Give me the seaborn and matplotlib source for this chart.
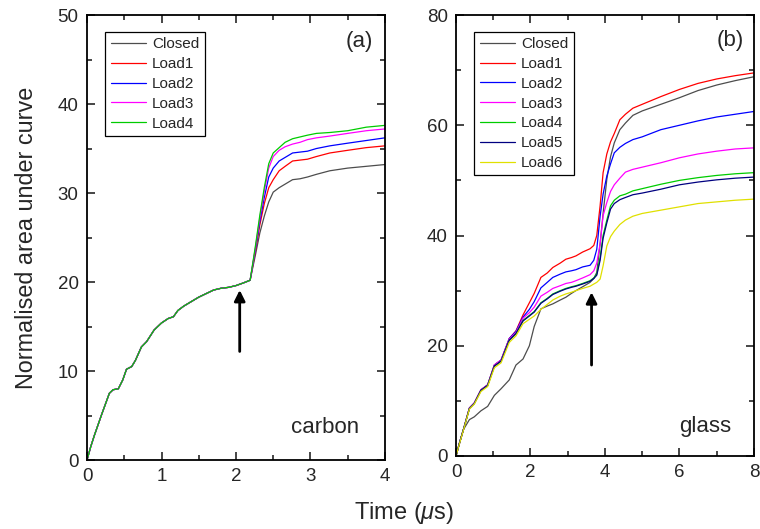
import numpy as np
import pandas as pd
import seaborn as sns
import matplotlib.pyplot as plt
from matplotlib.ticker import MultipleLocator

# ---- carbon panel (a) ----
carbon_t_early = [0, 0.05, 0.1, 0.2, 0.3, 0.35, 0.42, 0.48, 0.53, 0.6, 0.65, 0.73, 0.8, 0.9,
                  1.0, 1.09, 1.16, 1.22, 1.3, 1.4, 1.5, 1.6, 1.7, 1.8, 1.9, 2.0, 2.1, 2.19]
carbon_early = [0, 1.5, 2.8, 5.2, 7.5, 7.9, 8.0, 9.0, 10.2, 10.5, 11.2, 12.7, 13.3, 14.6,
                15.4, 15.9, 16.1, 16.8, 17.3, 17.8, 18.3, 18.7, 19.1, 19.3, 19.4, 19.6, 19.9, 20.2]
carbon_t_late = [2.26, 2.32, 2.38, 2.44, 2.5, 2.58, 2.66, 2.76, 2.86, 2.96, 3.08, 3.26, 3.5, 3.75, 4.0]
carbon_closed = [23.0, 25.5, 27.4, 29.0, 30.1, 30.6, 31.0, 31.5, 31.6, 31.8, 32.1, 32.5, 32.8, 33.0, 33.2]
carbon_load1 = [23.4, 26.4, 28.8, 30.6, 31.5, 32.5, 33.0, 33.6, 33.7, 33.8, 34.1, 34.5, 34.8, 35.1, 35.3]
carbon_load2 = [23.6, 26.8, 29.5, 31.8, 32.8, 33.6, 34.0, 34.5, 34.6, 34.7, 35.0, 35.3, 35.6, 35.9, 36.2]
carbon_load3 = [23.8, 27.2, 30.2, 32.8, 34.1, 34.8, 35.2, 35.5, 35.7, 36.0, 36.2, 36.4, 36.7, 37.0, 37.2]
carbon_load4 = [24.0, 27.5, 30.6, 33.3, 34.5, 35.1, 35.7, 36.1, 36.3, 36.5, 36.7, 36.8, 37.0, 37.4, 37.6]

# ---- glass panel (b) ----
glass_t = [0, 0.1, 0.2, 0.36, 0.49, 0.67, 0.85, 1.03, 1.21, 1.43, 1.61, 1.8, 1.97, 2.1, 2.28,
           2.45, 2.6, 2.8, 2.95, 3.1, 3.22, 3.4, 3.6, 3.7, 3.78, 3.87, 3.95, 4.05, 4.15, 4.25,
           4.4, 4.55, 4.75, 5.0, 5.5, 6.0, 6.5, 7.0, 7.5, 8.0]
glass_closed = [0, 2.5, 4.8, 6.6, 7.1, 8.2, 9.0, 11.0, 12.2, 13.8, 16.5, 17.6, 20.0, 23.5, 26.7,
                27.2, 27.6, 28.3, 28.8, 29.5, 30.0, 30.7, 31.5, 32.2, 33.3, 38.5, 44.0, 50.2, 54.3, 56.8,
                59.2, 60.4, 61.8, 62.6, 63.8, 65.0, 66.3, 67.3, 68.1, 68.8]
glass_load1 = [0, 2.5, 4.8, 8.7, 9.6, 12.0, 12.9, 16.5, 17.4, 21.3, 22.7, 25.6, 27.8, 29.5, 32.4,
               33.2, 34.2, 35.0, 35.7, 36.0, 36.3, 37.0, 37.6, 38.2, 40.0, 45.4, 51.4, 54.8, 57.0, 58.5,
               61.0, 62.0, 63.1, 63.8, 65.2, 66.5, 67.6, 68.4, 69.0, 69.5]
glass_load2 = [0, 2.5, 4.8, 8.7, 9.6, 12.0, 12.9, 16.5, 17.4, 21.3, 22.6, 25.2, 26.6, 28.0, 30.5,
               31.5, 32.4, 33.0, 33.4, 33.6, 33.8, 34.3, 34.6, 35.5, 37.5, 43.5, 47.5, 50.8, 53.0, 55.0,
               56.0, 56.7, 57.4, 57.9, 59.2, 60.0, 60.8, 61.5, 62.0, 62.5]
glass_load3 = [0, 2.5, 4.8, 8.7, 9.6, 12.0, 12.9, 16.5, 17.4, 21.2, 22.4, 25.0, 26.0, 27.0, 29.0,
               29.7, 30.4, 30.9, 31.3, 31.5, 31.8, 32.3, 32.9, 33.6, 35.0, 38.5, 43.6, 46.0, 48.0, 49.2,
               50.4, 51.5, 52.0, 52.4, 53.2, 54.1, 54.8, 55.3, 55.7, 55.9]
glass_load4 = [0, 2.5, 4.8, 8.6, 9.5, 11.9, 12.8, 16.3, 17.2, 21.0, 22.2, 24.6, 25.5, 26.2, 27.8,
               28.6, 29.4, 30.0, 30.4, 30.7, 30.9, 31.3, 31.8, 32.3, 33.0, 36.0, 40.0, 42.8, 45.4, 46.4,
               47.2, 47.5, 48.1, 48.5, 49.3, 50.0, 50.5, 50.9, 51.2, 51.4]
glass_load5 = [0, 2.5, 4.8, 8.6, 9.5, 11.9, 12.8, 16.3, 17.2, 21.0, 22.2, 24.5, 25.4, 26.1, 27.7,
               28.5, 29.3, 29.9, 30.3, 30.6, 30.8, 31.2, 31.7, 32.2, 32.8, 35.5, 39.5, 42.3, 44.8, 45.8,
               46.5, 46.9, 47.4, 47.7, 48.4, 49.2, 49.7, 50.1, 50.4, 50.6]
glass_load6 = [0, 2.4, 4.7, 8.5, 9.4, 11.7, 12.6, 16.0, 16.9, 20.6, 21.8, 24.0, 24.8, 25.4, 26.6,
               27.5, 28.3, 29.0, 29.4, 29.7, 30.0, 30.4, 30.8, 31.2, 31.5, 32.1, 34.5, 38.1, 39.8, 40.8,
               42.0, 42.8, 43.5, 44.0, 44.6, 45.2, 45.8, 46.1, 46.4, 46.6]

colors = {'Closed': '#4d4d4d', 'Load1': '#ff0000', 'Load2': '#0000ff', 'Load3': '#ff00ff',
          'Load4': '#00cc00', 'Load5': '#000080', 'Load6': '#e0e000'}

carbon_series = {'Closed': carbon_closed, 'Load1': carbon_load1, 'Load2': carbon_load2,
                 'Load3': carbon_load3, 'Load4': carbon_load4}
rows = []
for name, late in carbon_series.items():
    for t, v in zip(carbon_t_early + carbon_t_late, carbon_early + late):
        rows.append((name, t, v))
df_c = pd.DataFrame(rows, columns=['series', 'time', 'area'])

glass_series = {'Closed': glass_closed, 'Load1': glass_load1, 'Load2': glass_load2,
                'Load3': glass_load3, 'Load4': glass_load4, 'Load5': glass_load5,
                'Load6': glass_load6}
rows = []
for name, vals in glass_series.items():
    for t, v in zip(glass_t, vals):
        rows.append((name, t, v))
df_g = pd.DataFrame(rows, columns=['series', 'time', 'area'])

sns.set_style('ticks')
plt.rcParams['font.family'] = ['Liberation Sans', 'DejaVu Sans']
plt.rcParams['mathtext.fontset'] = 'custom'
plt.rcParams['mathtext.it'] = 'Liberation Sans:italic'

fig = plt.figure(figsize=(7.6, 5.29), dpi=100)
ax1 = fig.add_axes([0.1145, 0.1304, 0.392, 0.8412])
ax2 = fig.add_axes([0.600, 0.1380, 0.392, 0.8336])

sns.lineplot(data=df_c, x='time', y='area', hue='series', palette=colors, lw=0.9, ax=ax1)
sns.lineplot(data=df_g, x='time', y='area', hue='series', palette=colors, lw=0.9, ax=ax2)

for ax, xmax, ymax, xmaj, ymaj in [(ax1, 4, 50, 1, 10), (ax2, 8, 80, 2, 20)]:
    ax.set_xlim(0, xmax)
    ax.set_ylim(0, ymax)
    ax.xaxis.set_major_locator(MultipleLocator(xmaj))
    ax.xaxis.set_minor_locator(MultipleLocator(xmaj / 2))
    ax.yaxis.set_major_locator(MultipleLocator(ymaj))
    ax.yaxis.set_minor_locator(MultipleLocator(ymaj / 2))
    ax.tick_params(which='both', direction='in', top=True, right=True, width=1.2,
                   labelsize=13.5, pad=6)
    ax.tick_params(which='major', length=6)
    ax.tick_params(which='minor', length=3.5)
    for s in ax.spines.values():
        s.set_linewidth(1.3)
        s.set_color('black')
    ax.set_xlabel('')
    ax.set_ylabel('')
    leg = ax.legend(loc='upper left', bbox_to_anchor=(0.062, 0.962), fontsize=11,
                    frameon=True, fancybox=False, edgecolor='black', framealpha=1,
                    handlelength=2.3, handletextpad=0.4, borderpad=0.35, labelspacing=0.38,
                    borderaxespad=0)
    leg.get_frame().set_linewidth(0.9)
    leg.set_title(None)

ax1.text(0.915, 0.94, '(a)', transform=ax1.transAxes, fontsize=16, ha='center', va='center')
ax2.text(0.92, 0.943, '(b)', transform=ax2.transAxes, fontsize=16, ha='center', va='center')
ax1.text(0.80, 0.072, 'carbon', transform=ax1.transAxes, fontsize=16, ha='center', va='center')
ax2.text(0.835, 0.066, 'glass', transform=ax2.transAxes, fontsize=16, ha='center', va='center')

arrow = dict(arrowstyle='-|>', color='black', lw=2, mutation_scale=16, shrinkA=0, shrinkB=0)
ax1.annotate('', xy=(2.05, 19.1), xytext=(2.05, 12.2), arrowprops=arrow)
ax2.annotate('', xy=(3.64, 29.7), xytext=(3.64, 16.5), arrowprops=arrow)

ax1.set_ylabel('Normalised area under curve', fontsize=16.8, labelpad=14)
fig.text(0.532, 0.030, r'Time ($\mathit{\mu}$s)', fontsize=17, ha='center', va='center')

fig.savefig('out.png', dpi=100)
